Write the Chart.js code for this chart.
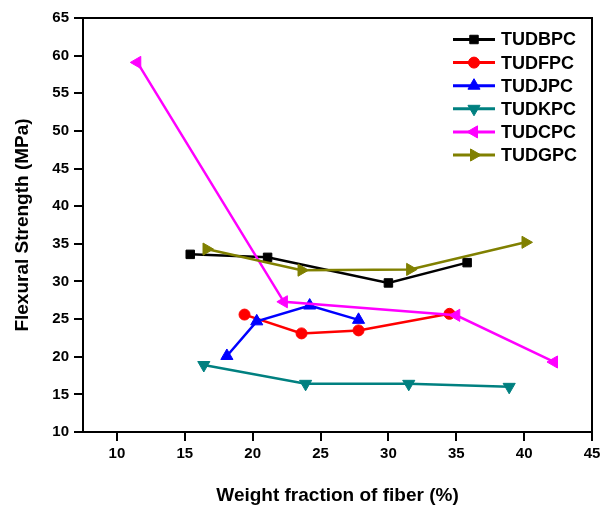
<!DOCTYPE html>
<html lang="en">
<head>
  <meta charset="UTF-8">
  <title>Flexural Strength vs Weight Fraction</title>
  <script src="https://cdn.jsdelivr.net/npm/chart.js"></script>
  <style>
    body { margin: 0; background: #fff; }
    #wrap { width: 601px; height: 509px; }
  </style>
</head>
<body>
  <div id="wrap"><canvas id="flexChart" width="601" height="509"></canvas></div>

  <script>
    // values
    const seriesNames = ['TUDBPC', 'TUDFPC', 'TUDJPC', 'TUDKPC', 'TUDCPC', 'TUDGPC'];
    const bpcX = [15.4, 21.1, 30.0, 35.8];
    const bpcY = [33.6, 33.2, 29.8, 32.5];
    const fpcX = [19.4, 23.6, 27.8, 34.5];
    const fpcY = [25.6, 23.1, 23.5, 25.7];
    const jpcX = [18.1, 20.3, 24.2, 27.8];
    const jpcY = [20.1, 24.7, 26.8, 24.9];
    const kpcX = [16.4, 23.9, 31.5, 38.9];
    const kpcY = [18.9, 16.4, 16.4, 16.0];
    const cpcX = [11.5, 22.3, 35.0, 42.2];
    const cpcY = [59.1, 27.3, 25.5, 19.3];
    const gpcX = [16.6, 23.6, 31.6, 40.1];
    const gpcY = [34.3, 31.5, 31.6, 35.2];
    const xTicks = [10, 15, 20, 25, 30, 35, 40, 45];
    const yTicks = [10, 15, 20, 25, 30, 35, 40, 45, 50, 55, 60, 65];

    const colors = ['#000000', '#ff0000', '#0000ff', '#008080', '#ff00ff', '#808000'];
    const markers = [
      { style: 'rect', rot: 0, r: 6 },
      { style: 'circle', rot: 0, r: 5.5 },
      { style: 'triangle', rot: 0, r: 7 },
      { style: 'triangle', rot: 180, r: 7 },
      { style: 'triangle', rot: -90, r: 7 },
      { style: 'triangle', rot: 90, r: 7 }
    ];
    const allX = [bpcX, fpcX, jpcX, kpcX, cpcX, gpcX];
    const allY = [bpcY, fpcY, jpcY, kpcY, cpcY, gpcY];

    const datasets = seriesNames.map((name, i) => ({
      label: name,
      data: allX[i].map((x, k) => ({ x: x, y: allY[i][k] })),
      borderColor: colors[i],
      backgroundColor: colors[i],
      borderWidth: 2.5,
      pointStyle: markers[i].style,
      pointRotation: markers[i].rot,
      pointRadius: markers[i].r,
      pointBorderWidth: 1,
      showLine: true,
      tension: 0,
      order: 6 - i
    }));

    const font = 'Arial, "Liberation Sans", sans-serif';

    // box around the plot plus the hand-drawn legend
    const framePlugin = {
      id: 'frame',
      afterDraw(chart) {
        const ctx = chart.ctx;
        const a = chart.chartArea;
        ctx.save();
        ctx.strokeStyle = '#000';
        ctx.lineWidth = 2;
        ctx.strokeRect(a.left, a.top, a.right - a.left, a.bottom - a.top);

        ctx.font = 'bold 18px ' + font;
        ctx.textBaseline = 'middle';
        seriesNames.forEach((name, i) => {
          const y = 39.5 + i * 23.1;
          ctx.strokeStyle = colors[i];
          ctx.fillStyle = colors[i];
          ctx.lineWidth = 3;
          ctx.beginPath();
          ctx.moveTo(453, y);
          ctx.lineTo(495, y);
          ctx.stroke();
          ctx.lineWidth = 1;
          Chart.helpers.drawPoint(ctx, {
            pointStyle: markers[i].style,
            rotation: markers[i].rot,
            radius: markers[i].r,
            borderWidth: 1
          }, 474, y);
          ctx.fillStyle = '#000';
          ctx.fillText(name, 501, y + 1);
        });
        ctx.restore();
      }
    };

    const ctx = document.getElementById('flexChart').getContext('2d');
    new Chart(ctx, {
      type: 'scatter',
      data: { datasets: datasets },
      options: {
        responsive: false,
        animation: false,
        layout: { padding: { top: 18, right: 9, left: 0, bottom: 0 } },
        plugins: {
          legend: { display: false },
          tooltip: { enabled: false }
        },
        scales: {
          x: {
            type: 'linear',
            min: 7.5,
            max: 45,
            afterBuildTicks: s => { s.ticks = xTicks.map(v => ({ value: v })); },
            afterFit: s => { s.height = 77; s.paddingRight = 0; s.paddingLeft = 0; },
            border: { color: '#000', width: 2 },
            grid: { drawOnChartArea: false, color: '#000', lineWidth: 2, tickLength: 9 },
            ticks: { color: '#000', padding: 4, font: { family: font, size: 15, weight: 'bold' } },
            title: {
              display: true,
              text: 'Weight fraction of fiber (%)',
              color: '#000',
              padding: { top: 0, bottom: 2 },
              font: { family: font, size: 19, weight: 'bold' }
            }
          },
          y: {
            min: 10,
            max: 65,
            afterBuildTicks: s => { s.ticks = yTicks.map(v => ({ value: v })); },
            afterFit: s => { s.width = 83; s.paddingTop = 0; s.paddingBottom = 0; },
            border: { color: '#000', width: 2 },
            grid: { drawOnChartArea: false, color: '#000', lineWidth: 2, tickLength: 9 },
            ticks: { color: '#000', padding: 5, font: { family: font, size: 15, weight: 'bold' } },
            title: {
              display: true,
              text: 'Flexural Strength (MPa)',
              color: '#000',
              padding: { top: 11, bottom: 0 },
              font: { family: font, size: 19, weight: 'bold' }
            }
          }
        }
      },
      plugins: [framePlugin]
    });
  </script>
</body>
</html>
